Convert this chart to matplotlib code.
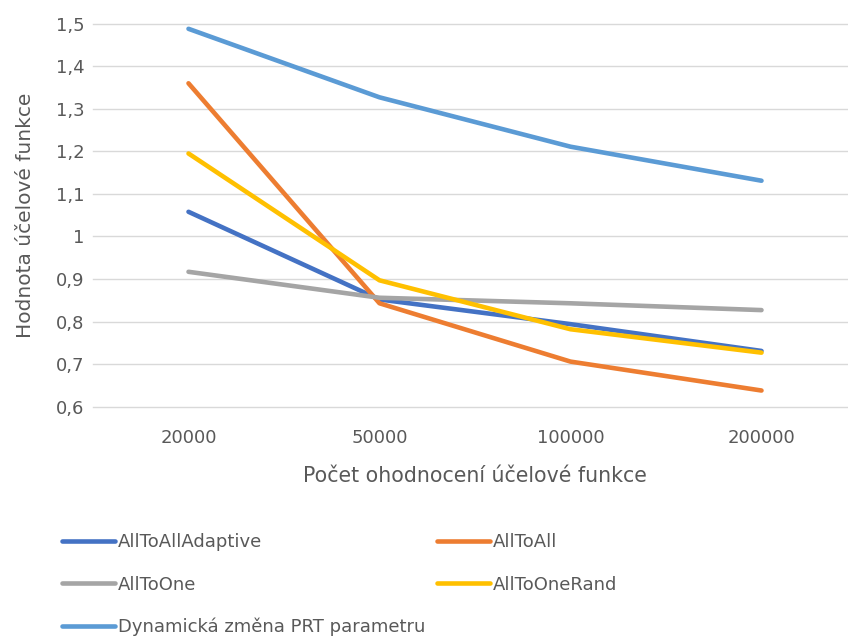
import matplotlib.pyplot as plt
from matplotlib.ticker import FuncFormatter

plt.rcParams['font.family'] = ['DejaVu Sans']

# data
categories = ['20000', '50000', '100000', '200000']
all_to_all_adaptive = [1.058, 0.852, 0.794, 0.731]
all_to_all = [1.360, 0.843, 0.706, 0.638]
all_to_one = [0.917, 0.856, 0.843, 0.827]
all_to_one_rand = [1.195, 0.897, 0.782, 0.727]
dynamic_prt = [1.488, 1.327, 1.211, 1.131]

series = [
    ('AllToAllAdaptive', all_to_all_adaptive, '#4472C4'),
    ('AllToAll', all_to_all, '#ED7D31'),
    ('AllToOne', all_to_one, '#A5A5A5'),
    ('AllToOneRand', all_to_one_rand, '#FFC000'),
    ('Dynamická změna PRT parametru', dynamic_prt, '#5B9BD5'),
]

text_color = '#595959'

fig = plt.figure(figsize=(8.48, 6.39), dpi=100)
ax = fig.add_axes([93 / 848, 1 - 406.7 / 639, 764 / 848, 383 / 639])

x = range(len(categories))
lines = {}
for name, vals, color in series:
    ln, = ax.plot(x, vals, color=color, lw=3.3, solid_capstyle='round',
                  solid_joinstyle='round', label=name)
    lines[name] = ln

ax.set_xlim(-0.5, len(categories) - 0.5)
ax.set_ylim(0.6, 1.5)
ax.set_yticks([0.6 + 0.1 * i for i in range(10)])
ax.yaxis.set_major_formatter(FuncFormatter(lambda v, p: ('%g' % round(v, 1)).replace('.', ',')))
ax.set_xticks(list(x))
ax.set_xticklabels(categories)

ax.grid(axis='y', color='#D9D9D9', lw=1.0)
for gl in ax.get_ygridlines():
    gl.set_clip_on(False)
ax.set_axisbelow(True)
for s in ax.spines.values():
    s.set_visible(False)
ax.tick_params(axis='both', length=0, labelsize=13, labelcolor=text_color)
ax.tick_params(axis='y', pad=6)
ax.tick_params(axis='x', pad=16)

ax.set_xlabel('Počet ohodnocení účelové funkce', fontsize=14.8, color=text_color)
ax.xaxis.set_label_coords(0.5, -0.155)
ax.set_ylabel('Hodnota účelové funkce', fontsize=14.5, color=text_color)
ax.yaxis.set_label_coords(-0.076, 0.5)

# legend laid out like Excel: two columns, filled row by row
leg_kw = dict(frameon=False, fontsize=13, handlelength=2.95, handletextpad=0.12,
              labelspacing=1.35, labelcolor=text_color, loc='upper left',
              borderaxespad=0)
col1 = ['AllToAllAdaptive', 'AllToOne', 'Dynamická změna PRT parametru']
col2 = ['AllToAll', 'AllToOneRand']
fig.legend([lines[n] for n in col1], col1, bbox_to_anchor=(55 / 848, 1 - 526 / 639), **leg_kw)
fig.legend([lines[n] for n in col2], col2, bbox_to_anchor=(430 / 848, 1 - 526 / 639), **leg_kw)

fig.savefig('out.png', dpi=100)
